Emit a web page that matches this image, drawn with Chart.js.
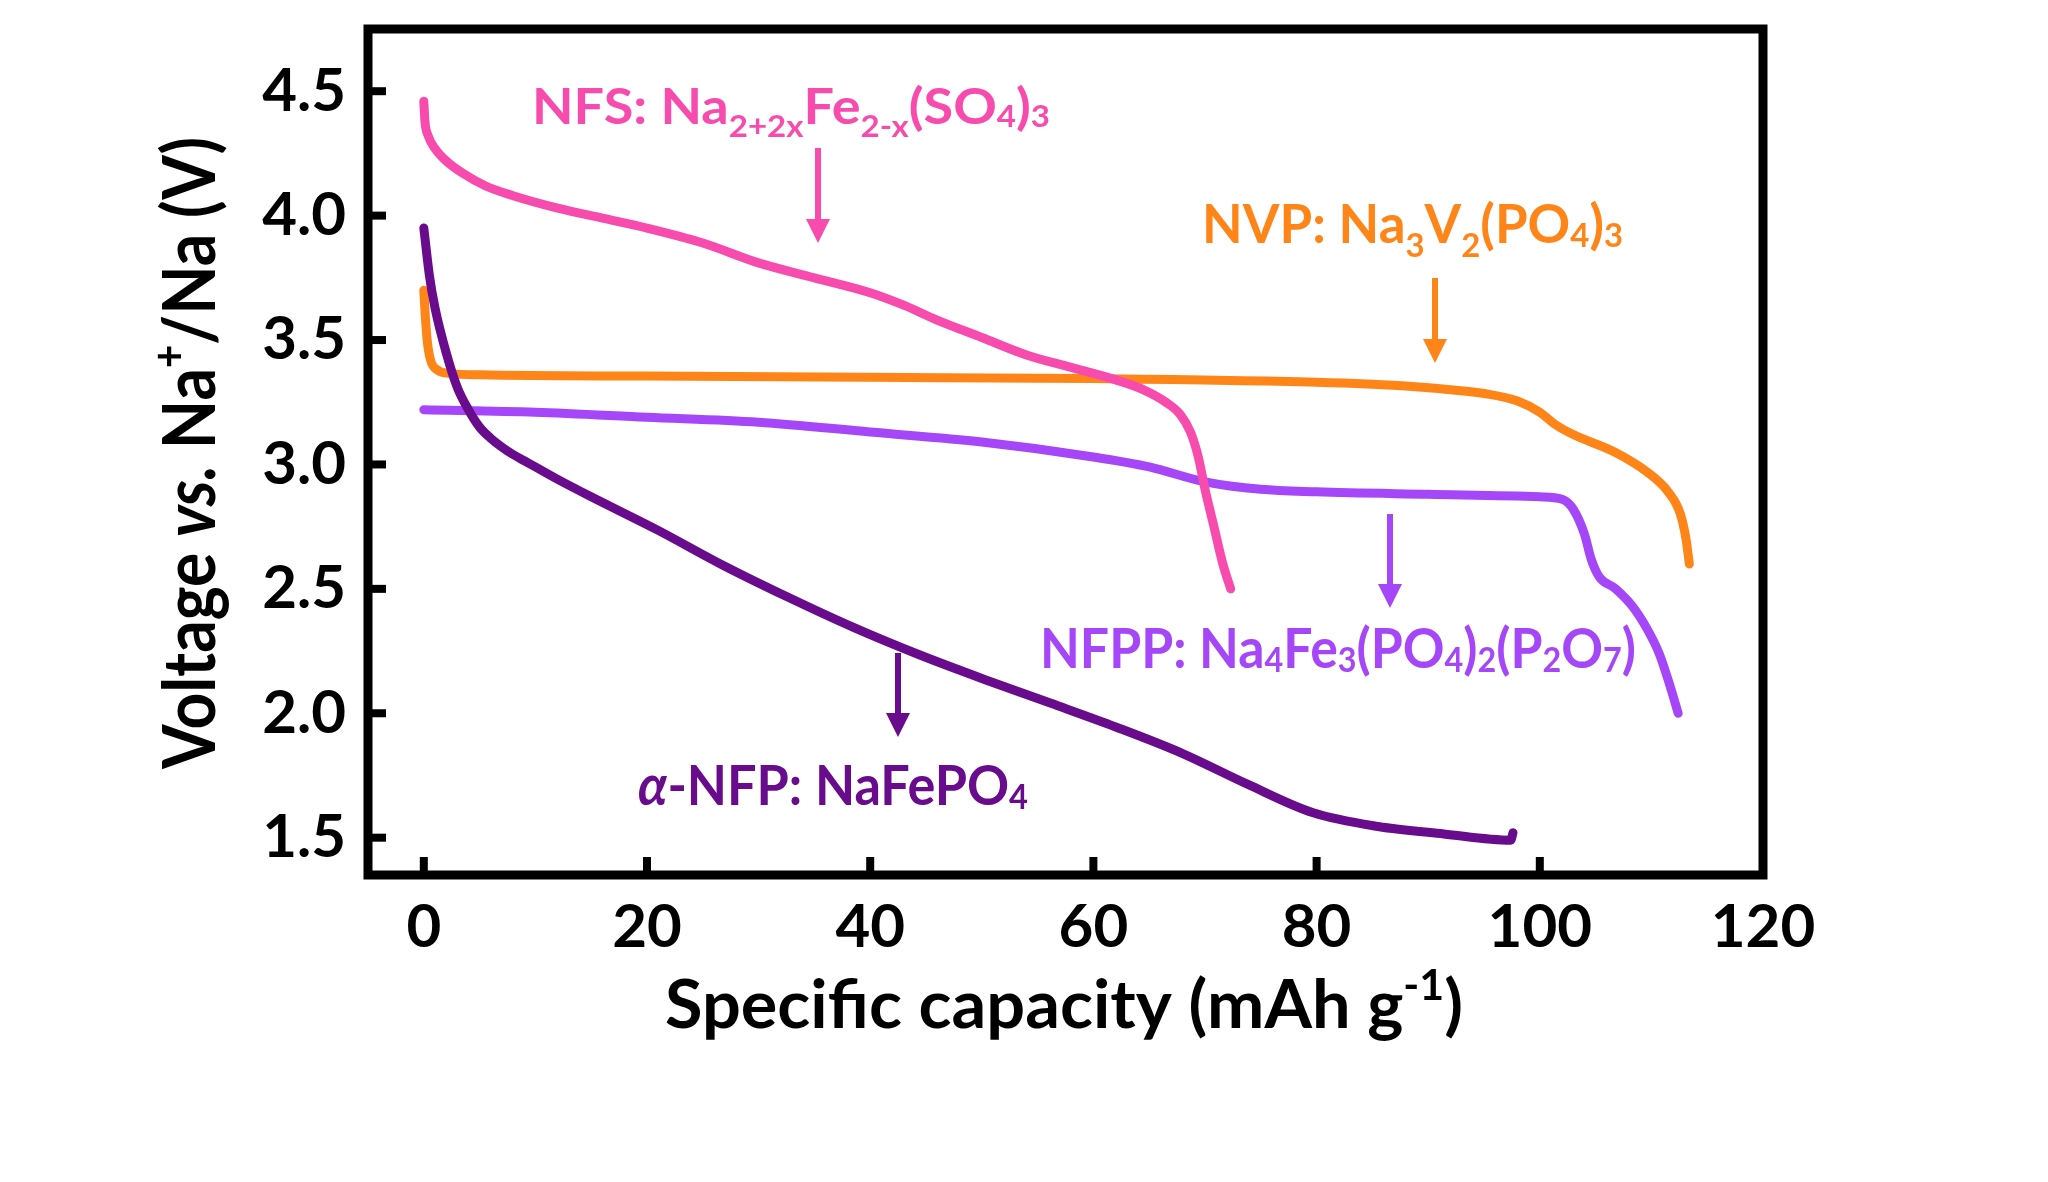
<!DOCTYPE html>
<html>
<head>
<meta charset="utf-8">
<script src="https://cdn.jsdelivr.net/npm/chart.js@4.4.1/dist/chart.umd.min.js"></script>
<style>
  html, body { margin: 0; padding: 0; background: #fff; }
  canvas { display: block; }
</style>
</head>
<body>
<canvas id="myChart" width="2048" height="1182"></canvas>
<script>
// discharge curves: capacity (mAh/g) and voltage (V)
var nfsCap = [0, 0.1, 0.4, 1, 2, 3.5, 5.5, 8, 12, 16, 20, 25, 30, 35, 40, 43, 46, 50, 54, 58, 62, 64.5, 66.5, 67.8, 68.7, 69.4, 70, 70.8, 71.6, 72.3];
var nfsV   = [4.46, 4.38, 4.32, 4.27, 4.22, 4.17, 4.12, 4.08, 4.03, 3.99, 3.95, 3.89, 3.81, 3.75, 3.69, 3.64, 3.58, 3.51, 3.44, 3.39, 3.34, 3.30, 3.25, 3.20, 3.13, 3.03, 2.90, 2.75, 2.60, 2.50];

var nvpCap = [0, 0.1, 0.3, 0.6, 1.2, 2.5, 5, 20, 40, 60, 80, 88, 92, 95, 98, 100, 101.4, 103, 106.7, 109.6, 111.5, 112.6, 113.1, 113.4];
var nvpV   = [3.70, 3.62, 3.50, 3.42, 3.38, 3.365, 3.36, 3.355, 3.35, 3.345, 3.33, 3.315, 3.30, 3.285, 3.255, 3.21, 3.16, 3.12, 3.05, 2.97, 2.89, 2.80, 2.70, 2.60];

var nfppCap = [0, 10, 20, 30, 40, 50, 60, 65, 70, 75, 80, 90, 100, 102, 103, 104, 104.6, 105.3, 106.8, 108.3, 109.6, 110.7, 111.6, 112.4];
var nfppV   = [3.22, 3.21, 3.19, 3.17, 3.13, 3.09, 3.03, 2.99, 2.93, 2.90, 2.89, 2.88, 2.87, 2.86, 2.82, 2.72, 2.62, 2.55, 2.50, 2.43, 2.34, 2.24, 2.12, 2.00];

var nfpCap = [0, 0.5, 1, 2, 3, 4, 5, 6, 7, 8, 9, 10, 12, 15, 21, 26.8, 32.7, 38.5, 44.4, 50.3, 56.2, 62, 67.9, 73.8, 79.7, 85.5, 91.4, 97.4, 97.6];
var nfpV   = [3.95, 3.76, 3.63, 3.45, 3.31, 3.22, 3.15, 3.105, 3.07, 3.04, 3.015, 2.99, 2.94, 2.87, 2.735, 2.595, 2.465, 2.345, 2.235, 2.135, 2.04, 1.945, 1.84, 1.715, 1.60, 1.545, 1.515, 1.49, 1.52];

var xTicks = [0, 20, 40, 60, 80, 100, 120];
var yTicks = [1.5, 2.0, 2.5, 3.0, 3.5, 4.0, 4.5];

var nfsColor = '#f84bae';
var nvpColor = '#ff8518';
var nfppColor = '#a547f8';
var nfpColor = '#680b8c';

var FONT = 'Lato, "Open Sans", sans-serif';

function pts(xs, ys) {
  return xs.map(function (x, i) { return { x: x, y: ys[i] }; });
}

function curve(data, color) {
  return {
    data: data,
    borderColor: color,
    backgroundColor: color,
    borderWidth: 9,
    borderCapStyle: 'round',
    borderJoinStyle: 'round',
    pointRadius: 0,
    cubicInterpolationMode: 'monotone',
    fill: false
  };
}

// rich text: segments with sub/sup/italic, squeezed to a target width
function segFont(seg, size) {
  var s = size, style = '';
  if (seg.k === 'sub' || seg.k === 'lo' || seg.k === 'sup') s = size * 0.62;
  if (seg.it) style = 'italic ';
  return style + 'bold ' + Math.round(s) + 'px ' + FONT;
}
function segDy(seg, size) {
  if (seg.k === 'sub') return size * 0.26;
  if (seg.k === 'lo') return size * 0.07;
  if (seg.k === 'sup') return -size * 0.42;
  return 0;
}
function drawRich(ctx, segs, x, y, size, targetW, color) {
  var w = 0;
  segs.forEach(function (sg) { ctx.font = segFont(sg, size); w += ctx.measureText(sg.t).width; });
  ctx.save();
  ctx.translate(x, y);
  ctx.scale(targetW / w, 1);
  ctx.fillStyle = color;
  ctx.textBaseline = 'alphabetic';
  ctx.textAlign = 'left';
  var cx = 0;
  segs.forEach(function (sg) {
    ctx.font = segFont(sg, size);
    ctx.fillText(sg.t, cx, segDy(sg, size));
    cx += ctx.measureText(sg.t).width;
  });
  ctx.restore();
}
function arrow(ctx, x, y0, y1, color) {
  ctx.save();
  ctx.strokeStyle = color;
  ctx.fillStyle = color;
  ctx.lineWidth = 6;
  ctx.beginPath();
  ctx.moveTo(x, y0);
  ctx.lineTo(x, y1 - 20);
  ctx.stroke();
  ctx.beginPath();
  ctx.moveTo(x - 12, y1 - 24);
  ctx.lineTo(x + 12, y1 - 24);
  ctx.lineTo(x, y1);
  ctx.closePath();
  ctx.fill();
  ctx.restore();
}

var labels = [
  { segs: [{ t: 'NFS: Na' }, { t: '2+2x', k: 'sub' }, { t: 'Fe' }, { t: '2-x', k: 'sub' }, { t: '(SO' }, { t: '4', k: 'lo' }, { t: ')' }, { t: '3', k: 'lo' }],
    x: 532, y: 124, size: 49, w: 518, color: nfsColor, ax: 818, a0: 148, a1: 243 },
  { segs: [{ t: 'NVP: Na' }, { t: '3', k: 'sub' }, { t: 'V' }, { t: '2', k: 'sub' }, { t: '(PO' }, { t: '4', k: 'lo' }, { t: ')' }, { t: '3', k: 'lo' }],
    x: 1202, y: 243, size: 53, w: 421, color: nvpColor, ax: 1435, a0: 278, a1: 363 },
  { segs: [{ t: 'NFPP: Na' }, { t: '4', k: 'lo' }, { t: 'Fe' }, { t: '3', k: 'lo' }, { t: '(PO' }, { t: '4', k: 'lo' }, { t: ')' }, { t: '2', k: 'lo' }, { t: '(P' }, { t: '2', k: 'lo' }, { t: 'O' }, { t: '7', k: 'lo' }, { t: ')' }],
    x: 1040, y: 668, size: 56, w: 596, color: nfppColor, ax: 1390, a0: 514, a1: 608 },
  { segs: [{ t: '\u03b1', it: true }, { t: '-NFP: NaFePO' }, { t: '4', k: 'lo' }],
    x: 638, y: 805, size: 56, w: 390, color: nfpColor, ax: 898, a0: 653, a1: 737 }
];

var decor = {
  id: 'decor',
  afterDraw: function (chart) {
    var ctx = chart.ctx, a = chart.chartArea;
    var xs = chart.scales.x, ys = chart.scales.y;
    ctx.save();
    // inward ticks
    ctx.fillStyle = '#000';
    xTicks.forEach(function (v) {
      var px = xs.getPixelForValue(v);
      ctx.fillRect(px - 4, a.bottom - 18, 8, 18);
    });
    yTicks.forEach(function (v) {
      var py = ys.getPixelForValue(v);
      ctx.fillRect(a.left, py - 4, 18, 8);
    });
    // frame
    ctx.strokeStyle = '#000';
    ctx.lineWidth = 9;
    ctx.strokeRect(a.left, a.top, a.right - a.left, a.bottom - a.top);
    ctx.restore();

    labels.forEach(function (l) {
      drawRich(ctx, l.segs, l.x, l.y, l.size, l.w, l.color);
      arrow(ctx, l.ax, l.a0, l.a1, l.color);
    });

    // axis titles
    drawRich(ctx, [{ t: 'Specific capacity (mAh g' }, { t: '-1', k: 'sup' }, { t: ')' }],
      665, 1028, 67, 798, '#000');
    ctx.save();
    ctx.translate(215, 769);
    ctx.rotate(-Math.PI / 2);
    drawRich(ctx, [{ t: 'Voltage ' }, { t: 'vs.', it: true }, { t: ' Na' }, { t: '+', k: 'sup' }, { t: '/Na (V)' }],
      0, 0, 72, 632, '#000');
    ctx.restore();
  }
};

var ctx = document.getElementById('myChart').getContext('2d');

var myChart = new Chart(ctx, {
  type: 'line',
  data: {
    datasets: [
      curve(pts(nfpCap, nfpV), nfpColor),
      curve(pts(nfsCap, nfsV), nfsColor),
      curve(pts(nfppCap, nfppV), nfppColor),
      curve(pts(nvpCap, nvpV), nvpColor)
    ]
  },
  options: {
    responsive: false,
    animation: false,
    devicePixelRatio: 1,
    layout: { padding: { top: 29, right: 285, left: 0, bottom: 0 } },
    plugins: {
      legend: { display: false },
      tooltip: { enabled: false }
    },
    scales: {
      x: {
        type: 'linear',
        min: -5,
        max: 120,
        grid: { display: false, drawTicks: false },
        border: { display: false },
        afterBuildTicks: function (s) { s.ticks = xTicks.map(function (v) { return { value: v }; }); },
        afterFit: function (s) { s.height = 307; s.paddingLeft = 0; s.paddingRight = 0; },
        ticks: {
          padding: 17,
          color: '#000',
          maxRotation: 0,
          font: { family: FONT, size: 60, weight: 'bold' },
          callback: function (v) { return String(v); }
        }
      },
      y: {
        type: 'linear',
        min: 1.35,
        max: 4.75,
        grid: { display: false, drawTicks: false },
        border: { display: false },
        afterBuildTicks: function (s) { s.ticks = yTicks.map(function (v) { return { value: v }; }); },
        afterFit: function (s) { s.width = 368; s.paddingTop = 0; s.paddingBottom = 0; },
        ticks: {
          padding: 22,
          color: '#000',
          font: { family: FONT, size: 60, weight: 'bold' },
          callback: function (v) { return v.toFixed(1); }
        }
      }
    }
  },
  plugins: [decor]
});
</script>
</body>
</html>
